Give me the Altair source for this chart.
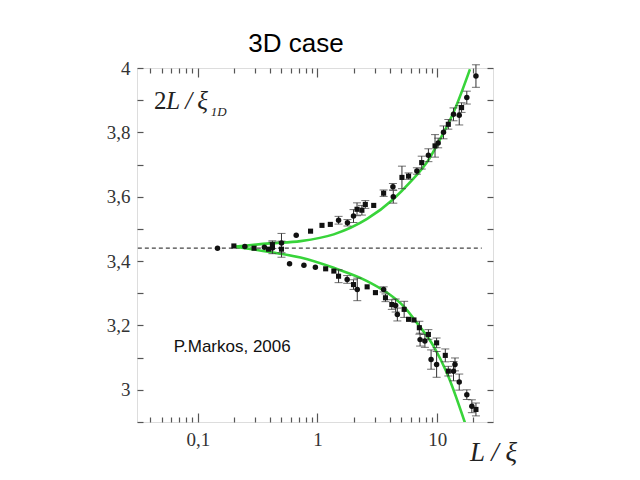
import altair as alt
import pandas as pd

# ---------------- data ----------------
pt_x = [0.146, 0.200, 0.247, 0.295, 0.36, 0.39, 0.42, 0.50, 0.42, 0.50,
        0.664, 0.875, 1.09, 1.28, 1.50, 1.78, 2.00, 2.14, 2.35, 2.51, 2.95, 3.57,
        4.27, 4.30, 5.08, 5.77, 6.77, 7.43, 8.45, 9.60, 10.2, 11.3, 12.4, 13.7,
        15.3, 16.0, 17.7, 21.1,
        0.584, 0.77, 0.96, 1.17, 1.37, 1.50, 1.77, 2.00, 2.15, 2.60, 3.05, 3.57,
        3.70, 4.18, 4.50, 4.65, 5.30, 5.77, 6.40, 7.10, 7.20, 7.90, 8.45, 9.90,
        8.90, 9.90, 11.7, 12.4, 13.7, 14.1, 15.3, 17.7, 19.5, 21.1]
pt_y = [3.440, 3.447, 3.445, 3.440, 3.443, 3.437, 3.441, 3.437, 3.451, 3.456,
        3.480, 3.493, 3.511, 3.514, 3.527, 3.519, 3.540, 3.561, 3.558, 3.576, 3.573, 3.611,
        3.631, 3.600, 3.660, 3.664, 3.680, 3.706, 3.729, 3.758, 3.767, 3.800, 3.825, 3.856,
        3.853, 3.877, 3.908, 3.975,
        3.392, 3.387, 3.381, 3.376, 3.369, 3.353, 3.343, 3.327, 3.312, 3.320, 3.302, 3.312,
        3.286, 3.265, 3.262, 3.234, 3.250, 3.219, 3.217, 3.193, 3.156, 3.152, 3.172, 3.146,
        3.094, 3.079, 3.107, 3.058, 3.058, 3.079, 3.024, 2.985, 2.949, 2.939]
pt_shape = ["circle", "square", "circle", "square", "circle", "square", "circle", "square", "square", "circle",
            "circle", "square", "square", "square", "circle", "circle", "circle", "square", "square", "square", "square", "square",
            "circle", "circle", "square", "square", "circle", "square", "circle", "square", "circle", "circle", "square", "circle",
            "circle", "square", "circle", "circle",
            "circle", "circle", "circle", "square", "square", "square", "circle", "square", "circle", "square", "square", "circle",
            "square", "square", "circle", "circle", "square", "square", "square", "square", "circle", "circle", "square", "square",
            "circle", "circle", "square", "square", "circle", "circle", "circle", "circle", "circle", "square"]
pt_err = [0, 0, 0, 0, 0, 0, 0.018, 0.025, 0.012, 0.03,
          0, 0, 0, 0, 0.012, 0.01, 0.02, 0.02, 0.015, 0.012, 0, 0.01,
          0.01, 0.02, 0.035, 0.01, 0.01, 0.02, 0.02, 0.035, 0.015, 0.02, 0.015, 0.02,
          0.03, 0.015, 0.02, 0.035,
          0, 0, 0, 0, 0, 0.02, 0.012, 0.015, 0.035, 0, 0, 0.008,
          0.012, 0.015, 0.02, 0.02, 0.025, 0, 0, 0.02, 0.02, 0.02, 0.015, 0.015,
          0.03, 0.04, 0.02, 0.015, 0.03, 0.02, 0.025, 0.015, 0.02, 0.02]

up_x = [0.207, 0.40, 0.722, 1.367, 2.595, 4.32, 5.95, 8.56, 10.6, 13.7, 18.8]
up_y = [3.445, 3.455, 3.462, 3.483, 3.531, 3.593, 3.645, 3.717, 3.779, 3.862, 3.996]
lo_x = [0.207, 0.40, 0.722, 1.367, 2.595, 3.81, 5.23, 6.78, 9.33, 12.05, 17.1]
lo_y = [3.445, 3.428, 3.411, 3.379, 3.338, 3.302, 3.260, 3.208, 3.136, 3.053, 2.897]

ref_x = [0.0315, 23.6]
ref_y = [3.44, 3.44]

x_major = [0.1, 1, 10]
x_minor = [0.04, 0.05, 0.06, 0.07, 0.08, 0.09, 0.2, 0.3, 0.4, 0.5, 0.6, 0.7, 0.8, 0.9,
           2, 3, 4, 5, 6, 7, 8, 9, 20]
y_labels = [3.0, 3.2, 3.4, 3.6, 3.8, 4.0]
y_ticks = [2.9, 3.0, 3.1, 3.2, 3.3, 3.4, 3.5, 3.6, 3.7, 3.8, 3.9, 4.0]

# ---------------- tables ----------------
pts = pd.DataFrame({"x": pt_x, "y": pt_y, "shape": pt_shape, "err": pt_err})
up = pd.DataFrame({"x": up_x, "y": up_y})
lo = pd.DataFrame({"x": lo_x, "y": lo_y})
ref = pd.DataFrame({"x": ref_x, "y": ref_y})

W, H = 356, 354
xs = alt.Scale(type="log", domain=[0.031, 29.3], nice=False)
ys = alt.Scale(domain=[2.9, 4.0], nice=False, zero=False)

label_expr = "replace(format(datum.value, '~g'), '.', ',')"
TICK = "#555555"


def tick_axis(orient, offset, values, size):
    return alt.Axis(orient=orient, offset=offset, values=values, labels=False,
                    domain=False, grid=False, tickSize=size, tickColor=TICK,
                    tickWidth=1.2, title=None)


# dashed reference line, carries the labelled axes
ref_layer = alt.Chart(ref).mark_line(color="#444444", strokeDash=[4, 3], strokeWidth=1.3).encode(
    x=alt.X("x:Q", scale=xs, axis=alt.Axis(
        orient="bottom", values=x_major, labelExpr=label_expr, ticks=False, tickSize=0,
        domain=False, grid=False, labelFont="Liberation Serif", labelFontSize=19,
        labelColor="#333333", labelPadding=8, title="L / ξ",
        titleFont="Liberation Serif", titleFontStyle="italic", titleFontWeight="normal",
        titleFontSize=27, titleColor="#222222", titleX=356, titleY=30,
        titleAlign="center", titleBaseline="middle")),
    y=alt.Y("y:Q", scale=ys, axis=alt.Axis(
        orient="left", values=y_labels, labelExpr=label_expr, ticks=False, tickSize=0,
        domain=False, grid=False, labelFont="Liberation Serif", labelFontSize=19,
        labelColor="#333333", labelPadding=7, title=None)),
)

green = "#38d43a"
up_layer = alt.Chart(up).mark_line(color=green, strokeWidth=2.6, interpolate="monotone", clip=True).encode(
    x=alt.X("x:Q", scale=xs, axis=tick_axis("top", -H, x_minor, 5)),
    y=alt.Y("y:Q", scale=ys, axis=tick_axis("right", -W, y_ticks, 6)),
)
lo_layer = alt.Chart(lo).mark_line(color=green, strokeWidth=2.6, interpolate="monotone", clip=True).encode(
    x=alt.X("x:Q", scale=xs, axis=tick_axis("bottom", -H, x_minor, 5)),
    y=alt.Y("y:Q", scale=ys, axis=tick_axis("left", -W, y_ticks, 6)),
)

err_layer = alt.Chart(pts).transform_filter("datum.err > 0").transform_calculate(
    lo="datum.y - datum.err", hi="datum.y + datum.err"
).mark_errorbar(
    ticks={"size": 8, "color": "#333333", "thickness": 1},
    rule={"color": "#333333", "strokeWidth": 1},
).encode(
    x=alt.X("x:Q", scale=xs, axis=None),
    y=alt.Y("lo:Q", scale=ys, axis=None, title=None),
    y2="hi:Q",
)

circ_layer = alt.Chart(pts).transform_filter("datum.shape == 'circle'").mark_point(
    shape="circle", filled=True, color="#111111", size=30, opacity=1).encode(
    x=alt.X("x:Q", scale=xs, axis=tick_axis("top", -H, x_major, 9)),
    y=alt.Y("y:Q", scale=ys, axis=None),
)
sq_layer = alt.Chart(pts).transform_filter("datum.shape == 'square'").mark_point(
    shape="square", filled=True, color="#111111", size=26, opacity=1).encode(
    x=alt.X("x:Q", scale=xs, axis=tick_axis("bottom", -H, x_major, 9)),
    y=alt.Y("y:Q", scale=ys, axis=None),
)

# annotations
ann_two = pd.DataFrame({"x": [0.043], "y": [3.872], "t": ["2"]})
ann_frac = pd.DataFrame({"x": [0.0545], "y": [3.872], "t": ["L\u2009/\u2009ξ"]})
ann_sub = pd.DataFrame({"x": [0.128], "y": [3.852], "t": ["1D"]})
ann_cite = pd.DataFrame({"x": [0.063], "y": [3.119], "t": ["P.Markos, 2006"]})


def text_layer(df, **kw):
    return alt.Chart(df).mark_text(align="left", baseline="alphabetic", **kw).encode(
        x=alt.X("x:Q", scale=xs, axis=None),
        y=alt.Y("y:Q", scale=ys, axis=None),
        text="t:N",
    )


t1 = text_layer(ann_two, font="Liberation Serif", fontSize=25, color="#222222")
t2 = text_layer(ann_frac, font="Liberation Serif", fontSize=25, fontStyle="italic", color="#222222")
t3 = text_layer(ann_sub, font="Liberation Serif", fontSize=13, fontStyle="italic", color="#222222")
t4 = text_layer(ann_cite, font="Liberation Sans", fontSize=17, color="#111111")

chart = alt.layer(
    ref_layer, up_layer, lo_layer, err_layer, circ_layer, sq_layer, t1, t2, t3, t4
).resolve_axis(x="independent", y="independent").properties(
    width=W, height=H,
    title=alt.TitleParams("3D case", font="Liberation Sans", fontSize=26,
                          fontWeight="normal", color="#000000", anchor="middle",
                          dx=-19, offset=2),
    autosize=alt.AutoSizeParams(type="none"),
    padding={"left": 137, "top": 68, "right": 147, "bottom": 58},
).configure_view(stroke="#666666", strokeWidth=1.6).configure(background="white")

chart.save("out.html", embed_options={"renderer": "svg", "actions": False})
